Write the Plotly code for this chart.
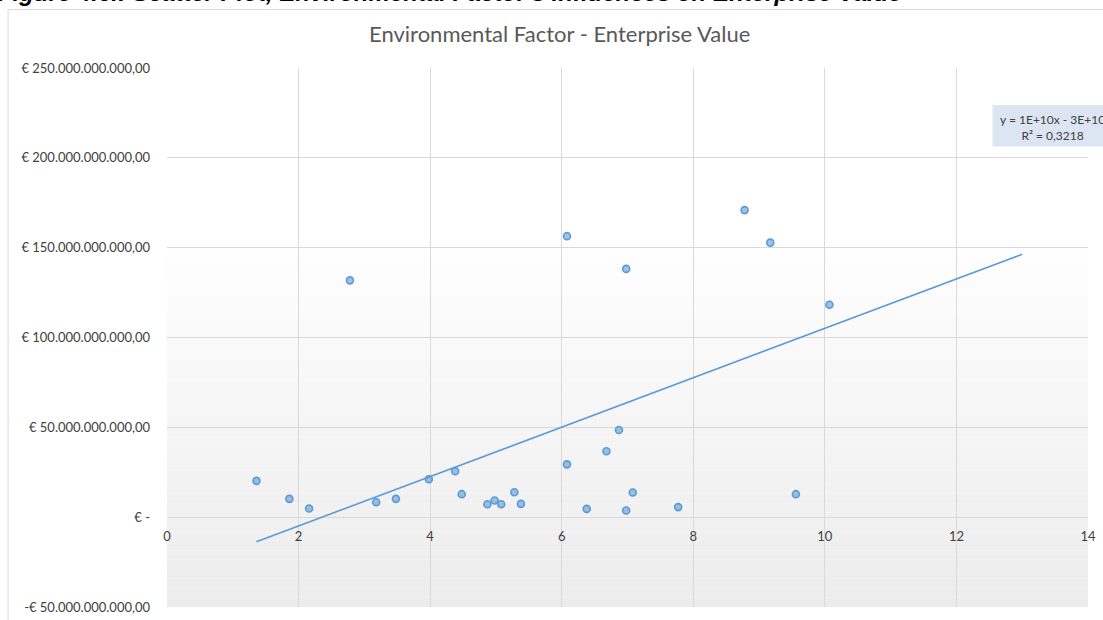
import numpy as np
import plotly.graph_objects as go

# ---------------- data ----------------
environmental_factor = [1.36, 1.86, 2.16, 2.78, 3.18, 3.48, 3.98, 4.38, 4.48, 4.87,
                        4.98, 5.08, 5.28, 5.38, 6.08, 6.08, 6.38, 6.68, 6.87, 6.98,
                        6.98, 7.08, 7.77, 8.78, 9.17, 9.56, 10.07]
enterprise_value_bn = [20.2, 10.2, 4.8, 131.8, 8.3, 10.2, 21.1, 25.6, 12.8, 7.2,
                       9.3, 7.2, 13.9, 7.4, 156.4, 29.4, 4.6, 36.7, 48.5, 138.2,
                       3.7, 13.7, 5.6, 170.9, 152.8, 12.8, 118.2]
enterprise_value = [v * 1e9 for v in enterprise_value_bn]

# linear trendline as drawn in the chart
trend_slope = 13.75e9
trend_intercept = -32.4e9
trend_x = [min(environmental_factor), 13.0]
trend_y = [trend_slope * x + trend_intercept for x in trend_x]

y_tick_values = [-50e9, 0, 50e9, 100e9, 150e9, 200e9, 250e9]
y_tick_labels = ["-€ 50.000.000.000,00", "€ -", "€ 50.000.000.000,00",
                 "€ 100.000.000.000,00", "€ 150.000.000.000,00",
                 "€ 200.000.000.000,00", "€ 250.000.000.000,00"]
x_tick_values = [0, 2, 4, 6, 8, 10, 12, 14]

title_text = "Environmental Factor - Enterprise Value"
caption_text = "Figure 4.6.: Scatter Plot, Environmental Factor's influences on Enterprise Value"
equation_text = "y = 1E+10x - 3E+10<br>R² = 0,3218"

# ---------------- figure ----------------
W, H = 1103, 620
L, R, T, B = 167, 14.5, 68, 12.5
pw, ph = W - L - R, H - T - B

def px_to_paper_x(px):
    return (px - L) / pw

def px_to_paper_y(py):
    return (H - B - py) / ph

BLUE = "#5B9BD5"
GRID = "#d9d9d9"
TXT = "#404040"
FONT = "Lato"

fig = go.Figure()
fig.add_trace(go.Scatter(
    x=trend_x, y=trend_y, mode="lines",
    line=dict(color=BLUE, width=1.6), hoverinfo="skip", showlegend=False))
fig.add_trace(go.Scatter(
    x=environmental_factor, y=enterprise_value, mode="markers",
    marker=dict(size=7, color="rgba(91,155,213,0.6)",
                line=dict(color=BLUE, width=1.6)),
    showlegend=False))

# gradient plot background (white in upper part -> light grey at bottom)
shapes = []
n_bands = 40
g_top = 0.70
for i in range(n_bands):
    y0 = g_top * i / n_bands
    y1 = g_top * (i + 1) / n_bands
    t = (i + 0.5) / n_bands
    c = int(round(236 + (255 - 236) * t))
    shapes.append(dict(type="rect", xref="paper", yref="paper",
                       x0=0, x1=1, y0=y0, y1=y1,
                       fillcolor=f"rgb({c},{c},{c})", line=dict(width=0),
                       layer="below"))
# outer chart border
shapes.append(dict(type="rect", xref="paper", yref="paper",
                   x0=px_to_paper_x(8), x1=px_to_paper_x(1130),
                   y0=px_to_paper_y(640), y1=px_to_paper_y(9.5),
                   line=dict(color=GRID, width=1), fillcolor="rgba(0,0,0,0)",
                   layer="below"))
# equation label box
shapes.append(dict(type="rect", xref="paper", yref="paper",
                   x0=px_to_paper_x(993), x1=px_to_paper_x(1120),
                   y0=px_to_paper_y(146.5), y1=px_to_paper_y(105),
                   fillcolor="#dce6f2", line=dict(width=0), layer="above"))

annotations = [
    dict(text=equation_text, xref="paper", yref="paper",
         x=px_to_paper_x(1053), y=px_to_paper_y(128), xanchor="center", yanchor="middle",
         showarrow=False, font=dict(family=FONT, size=12, color=TXT), align="center"),
    dict(text=f"<b><i>{caption_text}</i></b>", xref="paper", yref="paper",
         x=px_to_paper_x(-4), y=px_to_paper_y(7.5), xanchor="left", yanchor="bottom",
         showarrow=False, font=dict(family="Liberation Sans, Arial", size=24, color="#000000")),
    dict(text=title_text, xref="paper", yref="paper",
         x=px_to_paper_x(559.5), y=px_to_paper_y(33), xanchor="center", yanchor="middle",
         showarrow=False, font=dict(family=FONT, size=22, color="#595959")),
]

fig.update_layout(
    width=W, height=H,
    margin=dict(l=L, r=R, t=T, b=B, autoexpand=False),
    paper_bgcolor="white", plot_bgcolor="white",
    font=dict(family=FONT, color=TXT),
    shapes=shapes, annotations=annotations,
    xaxis=dict(range=[0, 14], tickvals=x_tick_values, showgrid=True,
               gridcolor=GRID, gridwidth=1.3, zeroline=False, showline=False,
               anchor="free", position=(0 - (-50e9)) / (250e9 - (-50e9)),
               ticks="", ticklabelstandoff=10, automargin=False,
               tickfont=dict(family=FONT, size=13, color=TXT)),
    yaxis=dict(range=[-50e9, 250e9], tickvals=y_tick_values, ticktext=y_tick_labels,
               showgrid=True, gridcolor=GRID, gridwidth=1.3, zeroline=False,
               showline=False, ticks="", ticklabelstandoff=16, automargin=False,
               tickfont=dict(family=FONT, size=13, color=TXT)),
)

# remove the browser's default 8px page margin so the figure sits at the page origin
fig.write_html("out.html",
               config={"displayModeBar": False},
               post_script="document.body.style.margin='0';document.body.style.overflow='hidden';")
